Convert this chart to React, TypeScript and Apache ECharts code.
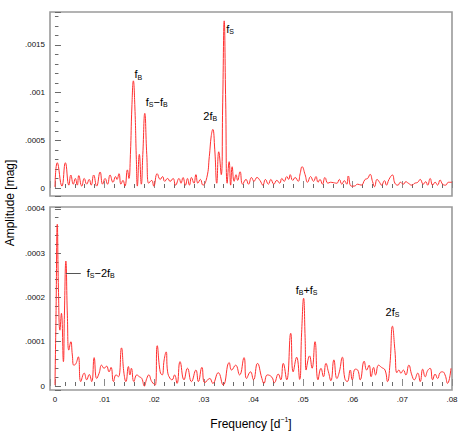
import React, { useEffect, useRef } from 'react';
import * as echarts from 'echarts';

// ---- Upper panel: amplitude spectrum (mag) ----
const topFreq = [
  0.0, 0.00047, 0.0014, 0.0021, 0.0028, 0.0032, 0.0037, 0.0041, 0.0045, 0.0048,
  0.0054, 0.0059, 0.0064, 0.0069, 0.0073, 0.0078, 0.0084, 0.0091, 0.0096, 0.0101,
  0.0106, 0.0111, 0.0117, 0.0122, 0.0125, 0.0129, 0.0133, 0.0137, 0.0141, 0.0146,
  0.0149, 0.0152, 0.0155, 0.0158, 0.0161, 0.0164, 0.0166, 0.017, 0.0174, 0.0177,
  0.0181, 0.0185, 0.0189, 0.0195, 0.0199, 0.0206, 0.0212, 0.0217, 0.0221, 0.0227,
  0.0232, 0.0238, 0.0243, 0.025, 0.0254, 0.0258, 0.0263, 0.0267, 0.0271, 0.0275,
  0.028, 0.0284, 0.0288, 0.0293, 0.0298, 0.0306, 0.0311, 0.0315, 0.0318, 0.0322,
  0.0326, 0.033, 0.0335, 0.0338, 0.0341, 0.0344, 0.0347, 0.0351, 0.0354, 0.0357,
  0.0361, 0.0365, 0.0368, 0.0373, 0.0378, 0.0385, 0.039, 0.0396, 0.0401, 0.0407,
  0.0413, 0.0419, 0.0424, 0.043, 0.0435, 0.0441, 0.0447, 0.0453, 0.0457, 0.0462,
  0.0467, 0.0471, 0.0474, 0.0479, 0.0484, 0.049, 0.0494, 0.0498, 0.0504, 0.0509,
  0.0515, 0.0521, 0.0526, 0.053, 0.0534, 0.0539, 0.0544, 0.055, 0.0555, 0.0561,
  0.0568, 0.0573, 0.0578, 0.0583, 0.0588, 0.0591, 0.0597, 0.0603, 0.061, 0.0617,
  0.0625, 0.063, 0.0635, 0.064, 0.0644, 0.0649, 0.0654, 0.0658, 0.0664, 0.0668,
  0.0673, 0.068, 0.0685, 0.0691, 0.0696, 0.0702, 0.0707, 0.0712, 0.0719, 0.0725,
  0.0731, 0.0736, 0.0742, 0.0747, 0.0751, 0.0756, 0.0761, 0.0766, 0.0771, 0.0776,
  0.0781, 0.0787, 0.0793, 0.08,
];
const topAmp = [
  0.00001, 0.000265, 0.00002, 0.000265, 0.00003, 0.000136, 0.00004, 0.0001, 0.00003, 0.00013,
  0.00002, 0.0001, 0.00004, 0.00009, 0.00003, 0.000136, 0.00002, 0.000168, 0.00004, 0.0001,
  0.00004, 0.000136, 0.00006, 0.00012, 0.00009, 0.00015, 0.00004, 0.00008, 0.00002, 0.00019,
  0.0001, 0.00035, 0.00085, 0.001124, 0.00085, 0.0003, 0.00002, 0.000353, 0.00004, 0.00035,
  0.000783, 0.00035, 0.00005, 0.00008, 0.00002, 0.00015, 0.00009, 0.00012, 0.00007, 0.0001,
  0.00007, 0.0001, 0.00003, 0.0001, 0.00005, 0.00011, 0.00003, 0.0001, 0.00003, 0.00011,
  0.00005, 0.00014, 0.00005, 0.00009, 0.00003, 0.00011, 0.00033, 0.00055, 0.000615, 0.0004,
  0.00005, 0.00038, 0.00014, 0.0009, 0.001753, 0.0009, 0.00005, 0.000276, 0.00003, 0.000223,
  0.00007, 0.00014, 0.00008, 0.00017, 0.00004, 0.00009, 0.00004, 0.00011, 0.00007, 0.00011,
  0.00008, 0.00003, 0.00009, 0.00004, 0.00009, 0.00004, 0.00008, 0.00005, 0.0001, 0.00007,
  0.00012, 0.00009, 0.00014, 0.00008, 0.00011, 0.00007, 0.00015, 0.000223, 0.00014, 0.00006,
  0.00012, 0.00007, 0.00012, 0.00006, 0.00009, 0.00004, 0.00011, 0.00005, 0.00006, 0.000056,
  0.00005, 0.00009, 0.00004, 0.000077, 0.00004, 0.000126, 0.00002, 0.00002, 0.00004, 0.00003,
  0.00009, 0.0001, 0.000143, 0.000066, 0.000014, 0.00009, 0.00006, 0.00003, 0.000077, 0.00003,
  0.00009, 0.000136, 0.00005, 0.00003, 0.00006, 0.00004, 0.000066, 0.00005, 0.00003, 0.00005,
  0.00006, 0.00009, 0.00004, 0.000066, 0.00003, 0.0001, 0.00003, 0.00006, 0.00003, 0.000084,
  0.00004, 0.00003, 0.00006, 0.00006,
];

// ---- Lower panel: amplitude spectrum (mag) ----
const bottomFreq = [
  0.0, 0.0002, 0.00047, 0.0007, 0.001, 0.0013, 0.0017, 0.0019, 0.0022, 0.0025,
  0.0028, 0.0032, 0.0035, 0.0038, 0.0042, 0.0047, 0.0052, 0.0059, 0.0064, 0.0069,
  0.0074, 0.0079, 0.0084, 0.0089, 0.0094, 0.0099, 0.0104, 0.0109, 0.0113, 0.0118,
  0.0123, 0.0128, 0.0134, 0.0139, 0.0143, 0.0148, 0.0151, 0.0154, 0.0159, 0.0165,
  0.017, 0.0175, 0.018, 0.0185, 0.0189, 0.0195, 0.0202, 0.0206, 0.0212, 0.0216,
  0.022, 0.0224, 0.0227, 0.0232, 0.0236, 0.0241, 0.0246, 0.0252, 0.026, 0.0267,
  0.0275, 0.0284, 0.0289, 0.0296, 0.0302, 0.0312, 0.0318, 0.0329, 0.0339, 0.0351,
  0.0356, 0.0364, 0.0372, 0.0381, 0.0386, 0.0394, 0.04, 0.0408, 0.0417, 0.0421,
  0.0428, 0.0437, 0.0442, 0.045, 0.0455, 0.046, 0.0467, 0.0475, 0.048, 0.0487,
  0.0493, 0.0497, 0.0501, 0.0504, 0.0506, 0.0513, 0.0518, 0.0524, 0.053, 0.0536,
  0.0541, 0.0546, 0.0551, 0.0556, 0.0562, 0.0568, 0.0573, 0.0579, 0.0584, 0.0589,
  0.0595, 0.0599, 0.0605, 0.061, 0.0615, 0.0623, 0.0628, 0.0633, 0.0637, 0.0642,
  0.0646, 0.0652, 0.0658, 0.0665, 0.067, 0.0675, 0.068, 0.0685, 0.0689, 0.0693,
  0.0697, 0.0702, 0.0707, 0.0713, 0.0719, 0.0724, 0.0731, 0.0736, 0.0741, 0.0746,
  0.0751, 0.0756, 0.0761, 0.0766, 0.0771, 0.0776, 0.0781, 0.0786, 0.0791, 0.0798,
];
const bottomAmp = [
  0.000002, 0.00015, 0.000365, 0.00022, 0.000126, 0.000164, 0.000055, 0.00016, 0.000282, 0.00016,
  0.000081, 0.0001, 0.00007, 0.000047, 0.00005, 0.000066, 0.00001, 0.000029, 0.000014, 0.000026,
  0.00001, 0.000064, 0.000017, 0.000029, 0.000047, 0.00004, 0.000045, 0.000032, 0.000042, 0.00001,
  0.000025, 0.000021, 0.000086, 0.000029, 0.00001, 0.000044, 0.000025, 0.00004, 0.00001, 0.000025,
  0.000021, 0.000017, 0.0, 0.000017, 0.000025, 0.00001, 0.000002, 0.000091, 0.000032, 0.000025,
  0.000059, 0.000077, 0.000032, 0.000017, 0.000014, 0.000025, 0.000006, 0.000055, 0.000014, 0.00004,
  0.00001, 0.000036, 0.00001, 0.000042, 0.0000075, 0.000017, 0.000006, 0.00003, 0.000002, 0.000053,
  0.000036, 0.000047, 0.000025, 0.000064, 0.000017, 0.000032, 0.000014, 0.000051, 0.000017, 0.000006,
  0.000025, 0.00002, 0.0000075, 0.000027, 0.000014, 0.000051, 0.000014, 0.000119, 0.000032, 0.000065,
  0.000015, 0.00012, 0.000198, 0.00011, 0.000036, 0.000068, 0.00004, 0.0001, 0.000014, 0.00004,
  0.000021, 0.000051, 0.000032, 0.000012, 0.000059, 0.000017, 0.000032, 0.000065, 0.000017, 0.00001,
  0.000036, 0.000014, 0.000038, 0.000036, 0.000014, 0.000056, 0.000036, 0.000047, 0.000021, 0.000042,
  0.000025, 0.000047, 0.000042, 0.000036, 0.00001, 0.00005, 0.000135, 0.00008, 0.00003, 0.000036,
  0.000029, 0.000036, 0.000025, 0.000047, 0.000025, 0.000014, 0.000029, 0.00001, 0.000038, 0.000021,
  0.000035, 0.00004, 0.000014, 0.000027, 0.000017, 0.00003, 0.000032, 0.000025, 0.000006, 0.00004,
];

// ---- Peak identifications ----
const topPeakText = ['{m|f}{s|B}', '{m|f}{s|S}{m|\u2212f}{s|B}', '{m|2f}{s|B}', '{m|f}{s|S}'];
const topPeakFreq = [0.0158, 0.0181, 0.0318, 0.0341];
const topPeakAmp = [0.001124, 0.000783, 0.000615, 0.001753];
const bottomPeakText = ['{m|f}{s|B}{m|+f}{s|S}', '{m|2f}{s|S}'];
const bottomPeakFreq = [0.0501, 0.068];
const bottomPeakAmp = [0.000198, 0.000135];
const leaderText = '{m|f}{s|S}{m|\u22122f}{s|B}';
const leaderFreq = [0.0022, 0.0052];
const leaderAmp = 0.000255;

const FONT = '"Liberation Sans", Arial, Helvetica, sans-serif';

const rich = {
  m: { fontSize: 11, fontFamily: FONT, color: '#000', lineHeight: 12, verticalAlign: 'top' },
  s: { fontSize: 7, fontFamily: FONT, color: '#000', lineHeight: 2, verticalAlign: 'bottom' },
};

const topLabelLayout = [
  { align: 'left', offset: [1, 0] },
  { align: 'left', offset: [1, -5] },
  { align: 'center', offset: [-2.5, -7] },
  { align: 'left', offset: [2, 14.5] },
];
const bottomLabelLayout = [
  { align: 'center', offset: [3, -2] },
  { align: 'center', offset: [0, -8] },
];

function tickFormatter(step: number) {
  return (v: number) => {
    const r = Math.round(v / step);
    if (Math.abs(v - r * step) > step * 1e-3 || r < 0) return '';
    if (r === 0) return '0';
    return String(+(r * step).toFixed(6)).replace(/^0\./, '.');
  };
}

const FRAME = '#9a9a9a';
const TICK = '#6a6a6a';

function xAxisCfg(gridIndex: number, showLabels: boolean) {
  return {
    type: 'value',
    gridIndex,
    min: -0.001,
    max: 0.08,
    splitNumber: 8,
    minInterval: 0.01,
    maxInterval: 0.01,
    axisLine: { show: false },
    axisTick: { show: true, inside: true, length: 7, lineStyle: { color: '#8a8a8a', width: 1 } },
    minorTick: { show: true, splitNumber: 5, length: 4, lineStyle: { color: TICK, width: 1 } },
    splitLine: { show: false },
    minorSplitLine: { show: false },
    axisLabel: {
      show: showLabels,
      fontSize: 8,
      fontFamily: FONT,
      color: '#111',
      margin: 5,
      formatter: tickFormatter(0.01),
    },
  };
}

function yAxisCfg(gridIndex: number, min: number, max: number, step: number) {
  return {
    type: 'value',
    gridIndex,
    min,
    max,
    splitNumber: 4,
    minInterval: step,
    maxInterval: step,
    axisLine: { show: false },
    axisTick: { show: true, inside: true, length: 6, lineStyle: { color: TICK, width: 1 } },
    minorTick: { show: true, splitNumber: 5, length: 3.5, lineStyle: { color: TICK, width: 1 } },
    splitLine: { show: false },
    minorSplitLine: { show: false },
    axisLabel: {
      fontSize: 8,
      fontFamily: FONT,
      color: '#111',
      margin: 5,
      formatter: tickFormatter(step),
    },
  };
}

function zip(xs: number[], ys: number[]) {
  return xs.map((x, i) => [x, ys[i]]);
}

export default function App() {
  const ref = useRef<HTMLDivElement>(null);
  useEffect(() => {
    if (!ref.current) return;
    const chart = echarts.init(ref.current, null, { renderer: 'svg' });
    const markPointBase = {
      symbol: 'circle',
      symbolSize: 1,
      itemStyle: { color: 'rgba(0,0,0,0)' },
      silent: true,
    };
    chart.setOption({
      animation: false,
      backgroundColor: '#fff',
      grid: [
        { left: 50, right: 11, top: 12, height: 184, show: true, borderColor: FRAME, borderWidth: 1.6, backgroundColor: 'transparent' },
        { left: 50, right: 11, top: 207, height: 183, show: true, borderColor: FRAME, borderWidth: 1.6, backgroundColor: 'transparent' },
      ],
      xAxis: [
        xAxisCfg(0, false),
        {
          ...xAxisCfg(1, true),
          name: '{m|Frequency [d}{sup|\u22121}{m|]}',
          nameLocation: 'middle',
          nameGap: 26,
          nameTextStyle: {
            rich: {
              m: { fontSize: 12, fontFamily: FONT, color: '#000', lineHeight: 14, verticalAlign: 'bottom' },
              sup: { fontSize: 7, fontFamily: FONT, color: '#000', lineHeight: 8.4, verticalAlign: 'top' },
            },
          },
        },
      ],
      yAxis: [
        yAxisCfg(0, -0.0000839, 0.001846, 0.0005),
        yAxisCfg(1, -0.000009, 0.000404, 0.0001),
      ],
      graphic: [
        {
          type: 'text',
          x: 10,
          y: 203,
          rotation: Math.PI / 2,
          silent: true,
          style: {
            text: 'Amplitude [mag]',
            fontSize: 12,
            fontFamily: FONT,
            fill: '#000',
            align: 'center',
            verticalAlign: 'middle',
          },
        },
      ],
      series: [
        {
          type: 'line',
          xAxisIndex: 0,
          yAxisIndex: 0,
          data: zip(topFreq, topAmp),
          showSymbol: false,
          smooth: 0.5,
          lineStyle: { color: '#ff3030', width: 1 },
          silent: true,
          markPoint: {
            ...markPointBase,
            label: { show: true, position: 'inside', color: '#000', rich },
            data: topPeakText.map((t, i) => ({
              coord: [topPeakFreq[i], topPeakAmp[i]],
              label: {
                formatter: t,
                align: topLabelLayout[i].align,
                verticalAlign: 'bottom',
                offset: topLabelLayout[i].offset,
              },
            })),
          },
        },
        {
          type: 'line',
          xAxisIndex: 1,
          yAxisIndex: 1,
          data: zip(bottomFreq, bottomAmp),
          showSymbol: false,
          smooth: 0.5,
          lineStyle: { color: '#ff3030', width: 1 },
          silent: true,
          markPoint: {
            ...markPointBase,
            label: { show: true, position: 'inside', color: '#000', rich },
            data: bottomPeakText.map((t, i) => ({
              coord: [bottomPeakFreq[i], bottomPeakAmp[i]],
              label: {
                formatter: t,
                align: bottomLabelLayout[i].align,
                verticalAlign: 'bottom',
                offset: bottomLabelLayout[i].offset,
              },
            })),
          },
          markLine: {
            silent: true,
            symbol: ['none', 'none'],
            lineStyle: { color: '#555', width: 1, type: 'solid' },
            label: { show: true, position: 'end', distance: 6, formatter: leaderText, color: '#000', rich },
            data: [[{ coord: [leaderFreq[0], leaderAmp] }, { coord: [leaderFreq[1], leaderAmp] }]],
          },
        },
      ],
    });
    return () => chart.dispose();
  }, []);
  return (
    <div
      ref={ref}
      style={{ position: 'fixed', left: 0, top: 0, width: 463, height: 432, background: '#fff' }}
    />
  );
}
